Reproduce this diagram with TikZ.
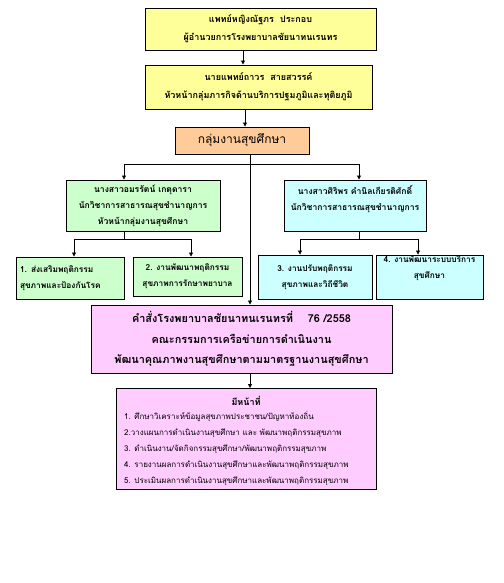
\documentclass[tikz,border=0pt]{standalone}
\usepackage{fontspec}
\newfontfamily\thaifont[Script=Thai]{Loma}
\usetikzlibrary{arrows.meta,calc}
\definecolor{yel}{HTML}{FFFF99}
\definecolor{ora}{HTML}{FFCC99}
\definecolor{grn}{HTML}{CCFFCC}
\definecolor{cya}{HTML}{CCFFFF}
\definecolor{pnk}{HTML}{FFCCFF}
\tikzset{
  box/.style={draw=black, line width=0.9pt, align=center, inner sep=0pt},
  fa/.style={font=\thaifont\bfseries\fontsize{9}{18}\selectfont},
  fb/.style={font=\thaifont\bfseries\fontsize{8.6}{16}\selectfont},
  fc/.style={font=\thaifont\bfseries\fontsize{8.3}{16}\selectfont},
  arr/.style={line width=0.8pt, -{Triangle[length=4pt,width=4pt]}},
  ln/.style={line width=0.8pt}
}
\begin{document}
\begin{tikzpicture}[x=1pt,y=-1pt]
\useasboundingbox[fill=white] (0,0) rectangle (503,583);
% top boxes
\node[box, fa, fill=yel, minimum width=231pt, minimum height=42pt] (b1) at (260.5,29)
  {แพทย์หญิงณัฐภร\ \ ประกอบ\\ ผู้อำนวยการโรงพยาบาลชัยนาทนเรนทร};
\node[box, fa, fill=yel, minimum width=227pt, minimum height=44pt] (b2) at (258.5,87)
  {นายแพทย์ถาวร\ \ สายสวรรค์\\ หัวหน้ากลุ่มภารกิจด้านบริการปฐมภูมิและทุติยภูมิ};
\node[box, fill=ora, minimum width=134pt, minimum height=27pt, font=\thaifont\fontsize{12}{14}\selectfont] (b3) at (242,140.5) {กลุ่มงานสุขศึกษา};
% second level
\node[box, fb, fill=grn, minimum width=154pt, minimum height=51pt] (g) at (143,205.5)
  {นางสาวอมรรัตน์ เกตุดารา\\ นักวิชาการสาธารณสุขชำนาญการ\\ หัวหน้ากลุ่มงานสุขศึกษา};
\node[box, fb, fill=cya, minimum width=142pt, minimum height=51pt] (c) at (355,205.5)
  {นางสาวศิริพร คำนิลเกียรติศักดิ์\\ นักวิชาการสาธารณสุขชำนาญการ\\ \mbox{}};
% third level
\node[box, fc, fill=grn, minimum width=108pt, minimum height=42pt, align=left, text width=100pt] (s1) at (70,278)
  {1. ส่งเสริมพฤติกรรม\\ สุขภาพและป้องกันโรค};
\node[box, fc, fill=grn, minimum width=109pt, minimum height=39pt] (s2) at (187.5,276.5)
  {2. งานพัฒนาพฤติกรรม\\ สุขภาพการรักษาพยาบาล};
\node[box, fc, fill=cya, minimum width=114pt, minimum height=44pt] (s3) at (315,277)
  {3. งานปรับพฤติกรรม\\ สุขภาพและวิถีชีวิต};
\node[box, fc, fill=cya, minimum width=107pt, minimum height=44pt] (s4) at (429.5,277)
  {4. งานพัฒนาระบบบริการ\\ สุขศึกษา\\[4pt]};
% pink boxes
\node[box, fill=pnk, minimum width=301pt, minimum height=68pt, font=\thaifont\bfseries\fontsize{10.9}{20.5}\selectfont] (pk) at (241.5,339)
  {คำสั่งโรงพยาบาลชัยนาทนเรนทรที่\ \ \ \ 76 /2558\\ คณะกรรมการเครือข่ายการดำเนินงาน\\ พัฒนาคุณภาพงานสุขศึกษาตามมาตรฐานงานสุขศึกษา};
\node[box, fill=pnk, minimum width=260pt, minimum height=101pt, anchor=north] (dt) at (246,388) {};
\node[font=\thaifont\bfseries\fontsize{9}{10}\selectfont, anchor=center] (dtt) at (246,401) {มีหน้าที่};
\node[font=\thaifont\fontsize{8}{16}\selectfont, align=left, anchor=north west, inner sep=0pt] (dtl) at (124,411)
  {1. ศึกษาวิเคราะห์ข้อมูลสุขภาพประชาชน/ปัญหาท้องถิ่น\\
   2.วางแผนการดำเนินงานสุขศึกษา และ พัฒนาพฤติกรรมสุขภาพ\\
   3. ดำเนินงาน/จัดกิจกรรมสุขศึกษา/พัฒนาพฤติกรรมสุขภาพ\\
   4. รายงานผลการดำเนินงานสุขศึกษาและพัฒนาพฤติกรรมสุขภาพ\\
   5. ประเมินผลการดำเนินงานสุขศึกษาและพัฒนาพฤติกรรมสุขภาพ};
% connectors
\draw[arr] (b1.south -| 243,0) -- (b2.north -| 243,0);
\draw[arr] (b2.south -| 245,0) -- (b3.north -| 245,0);
\coordinate (j1) at (250,164);
\draw[arr] (b3.south -| j1) -- (pk.north -| j1);
\draw[arr] (j1) -| (g.north -| 124,0);
\draw[arr] (j1) -| (c.north -| 359,0);
\coordinate (j2) at (124,239);
\draw[ln] (g.south -| j2) -- (j2);
\draw[arr] (j2) -| (s1.north -| 74,0);
\draw[arr] (j2) -| (s2.north -| 191,0);
\coordinate (j3) at (359,239);
\draw[ln] (c.south -| j3) -- (j3);
\draw[arr] (j3) -| (s3.north -| 300,0);
\draw[arr] (j3) -| (s4.north -| 418,0);
\draw[arr] (pk.south -| 250,0) -- (dt.north -| 250,0);
\end{tikzpicture}
\end{document}
